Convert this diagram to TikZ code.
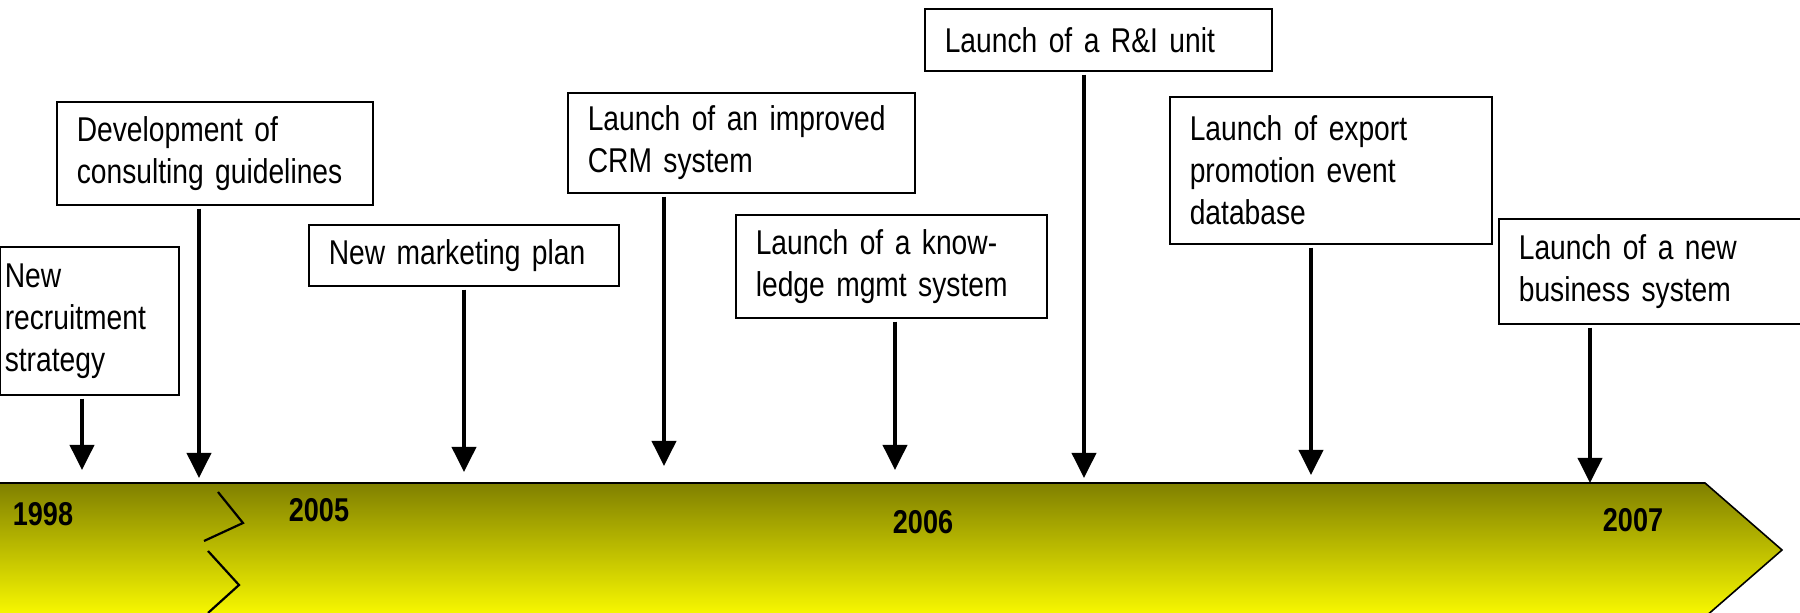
\documentclass[tikz,border=0pt]{standalone}
\usepackage{fontspec}
\setmainfont{Liberation Sans}
\newfontfamily\evfamily[FakeStretch=0.82,WordSpace=0.7]{Liberation Sans}
\usetikzlibrary{arrows.meta}

\definecolor{bandtop}{RGB}{128,128,0}
\definecolor{bandbot}{RGB}{250,250,0}

\tikzset{
  evbox/.style={draw, line width=0.8pt, fill=white, anchor=north west, align=left,
    inner xsep=10pt, inner ysep=2pt, font=\evfamily\fontsize{17.2}{21}\selectfont},
  evarrow/.style={line width=1.9pt, -{Triangle[length=12.5pt,width=12pt]}, shorten <=1.5pt},
  yearlbl/.style={font=\evfamily\fontsize{16.5}{20}\selectfont\bfseries, inner sep=0pt},
  breakline/.style={line width=1.1pt}
}

\begin{document}
\begin{tikzpicture}[x=0.5pt,y=0.5pt,yscale=-1,xscale=1]
            \useasboundingbox (0,0) rectangle (1800,613);
            \shade [top color=bandtop, bottom color=bandbot] (-5,483) -- (1705,483) -- (1782,550) -- (1705,617) -- (-5,617) -- cycle;
            \draw [line width=0.8pt] (-5,483) -- (1705,483) -- (1782,550) -- (1705,617);
            \draw [breakline] (218,492) -- (243,523) -- (204,541);
            \draw [breakline] (208,551) -- (239,585) -- (208,613);

            \node [yearlbl] (y1998) at (43,514) {1998};
            \node [yearlbl] (y2005) at (319,510) {2005};
            \node [yearlbl] (y2006) at (923,522) {2006};
            \node [yearlbl] (y2007) at (1633,520) {2007};

            \node [evbox, inner xsep=2.5pt, text width=84.5pt, minimum height=74pt] (recruit) at (-1,246) {New\\recruitment\\strategy};
            \node [evbox, text width=138pt, minimum height=51.5pt] (guide) at (56,101) {Development of\\consulting guidelines};
            \node [evbox, text width=135pt, minimum height=30.5pt] (mkt) at (308,224) {New marketing plan};
            \node [evbox, text width=153.5pt, minimum height=50pt] (crm) at (567,92) {Launch of an improved\\CRM system};
            \node [evbox, text width=135.5pt, minimum height=51.5pt] (kms) at (735,214) {Launch of a know-\\ledge mgmt system};
            \node [evbox, text width=153.5pt, minimum height=31pt] (rni) at (924,8) {Launch of a R\&I unit};
            \node [evbox, text width=141pt, minimum height=73.5pt] (export) at (1169,96) {Launch of export\\promotion event\\database};
            \node [evbox, text width=150pt, minimum height=52.5pt] (bizsys) at (1498,218) {Launch of a new\\business system};

            \coordinate (t1) at (82,470);
            \coordinate (t2) at (199,478);
            \coordinate (t3) at (464,472);
            \coordinate (t4) at (664,466);
            \coordinate (t5) at (895,470);
            \coordinate (t6) at (1084,478);
            \coordinate (t7) at (1311,475);
            \coordinate (t8) at (1590,483);

            \draw [evarrow] (recruit.south -| t1) -- (t1);
            \draw [evarrow] (guide.south -| t2) -- (t2);
            \draw [evarrow] (mkt.south -| t3) -- (t3);
            \draw [evarrow] (crm.south -| t4) -- (t4);
            \draw [evarrow] (kms.south -| t5) -- (t5);
            \draw [evarrow] (rni.south -| t6) -- (t6);
            \draw [evarrow] (export.south -| t7) -- (t7);
            \draw [evarrow] (bizsys.south -| t8) -- (t8);
        \end{tikzpicture}
\end{document}
